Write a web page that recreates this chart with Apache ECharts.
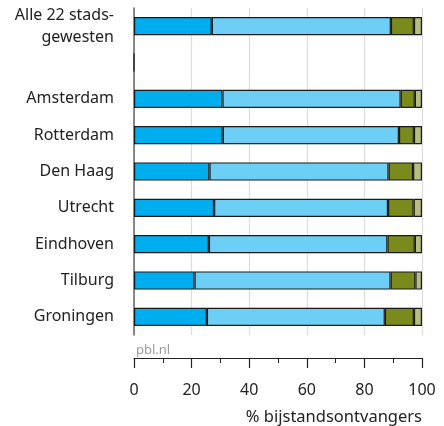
<!DOCTYPE html>
<html>
<head>
    <meta charset="UTF-8">
    <title>Bijstandsontvangers per stadsgewest</title>
    <script src="https://cdn.jsdelivr.net/npm/echarts@6/dist/echarts.min.js"></script>
    <style>
        body { margin: 0; background: #fff; }
        #chart { width: 444px; height: 426px; }
    </style>
</head>
<body>
    <div id="chart"></div>
    <script>
        // categorieen van boven naar beneden (lege regel tussen totaal en steden)
        var steden = ['Alle 22 stads-\ngewesten', '', 'Amsterdam', 'Rotterdam', 'Den Haag',
            'Utrecht', 'Eindhoven', 'Tilburg', 'Groningen'];

        // aandelen per segment (%)
        var deel1 = [27.0, 0, 30.7, 30.8, 26.2, 27.8, 26.0, 21.0, 25.3];
        var deel2 = [62.2, '-', 61.9, 61.2, 62.2, 60.4, 62.0, 68.1, 61.8];
        var deel3 = [8.0, '-', 4.9, 5.2, 8.5, 8.9, 9.5, 8.6, 10.1];
        var deel4 = [2.8, '-', 2.5, 2.8, 3.1, 2.9, 2.5, 2.3, 2.8];

        var xTicks = [0, 20, 40, 60, 80, 100];

        var kleuren = ['#00aeef', '#6dcff6', '#7b8a1c', '#b8bd82'];
        var fontFam = '"Noto Sans", "Open Sans", sans-serif';

        var chart = echarts.init(document.getElementById('chart'));

        function maakSerie(naam, data, kleur) {
            return {
                name: naam,
                type: 'bar',
                stack: 'totaal',
                barWidth: '50%',
                data: data,
                itemStyle: {
                    color: kleur,
                    borderColor: '#1a1a1a',
                    borderWidth: 1.2
                },
                emphasis: { disabled: true }
            };
        }

        var option = {
            animation: false,
            title: {
                text: 'pbl.nl',
                left: 131,
                top: 339,
                textStyle: {
                    fontFamily: fontFam,
                    fontSize: 13,
                    fontWeight: 'normal',
                    color: '#9a9a9a'
                }
            },
            grid: {
                left: 134,
                right: 22,
                top: 8,
                bottom: 89
            },
            xAxis: {
                type: 'value',
                min: xTicks[0],
                max: xTicks[xTicks.length - 1],
                interval: 20,
                offset: 23,
                name: '% bijstandsontvangers',
                nameLocation: 'end',
                nameGap: 0,
                nameTextStyle: {
                    fontFamily: fontFam,
                    fontSize: 16.5,
                    color: '#222',
                    align: 'right',
                    verticalAlign: 'top',
                    padding: [51, 0, 0, 0]
                },
                axisLine: { show: true, lineStyle: { color: '#222', width: 1.2 } },
                axisTick: { show: true, length: 10, lineStyle: { color: '#222', width: 1.2 } },
                minorTick: { show: true, splitNumber: 2, length: 5, lineStyle: { color: '#222', width: 1 } },
                axisLabel: {
                    margin: 24,
                    fontFamily: fontFam,
                    fontSize: 16,
                    color: '#222'
                },
                splitLine: { show: true, lineStyle: { color: '#dcdcdc', width: 1.2 } }
            },
            yAxis: {
                type: 'category',
                inverse: true,
                data: steden,
                axisLine: { show: true, lineStyle: { color: '#666', width: 1.5 } },
                axisTick: { show: false },
                axisLabel: {
                    margin: 20,
                    fontFamily: fontFam,
                    fontSize: 16,
                    color: '#222',
                    align: 'right',
                    lineHeight: 22
                }
            },
            series: [
                maakSerie('Segment 1', deel1, kleuren[0]),
                maakSerie('Segment 2', deel2, kleuren[1]),
                maakSerie('Segment 3', deel3, kleuren[2]),
                maakSerie('Segment 4', deel4, kleuren[3])
            ]
        };

        chart.setOption(option);
    </script>
</body>
</html>
